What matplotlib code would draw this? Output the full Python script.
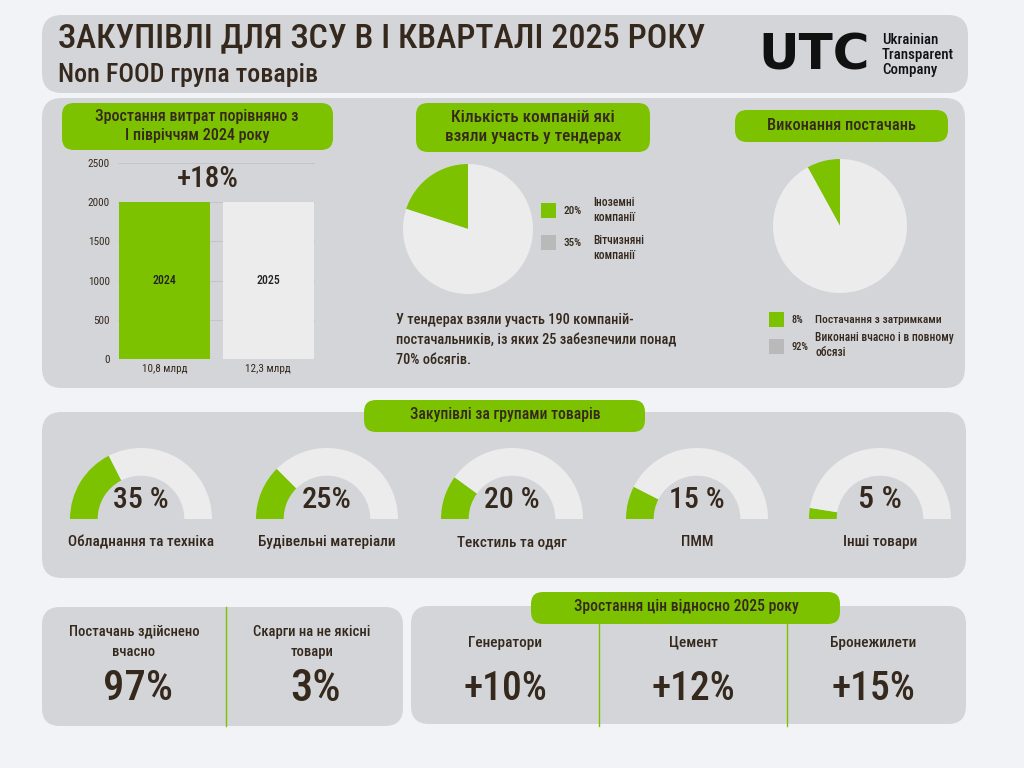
import matplotlib.pyplot as plt
from matplotlib import font_manager as fm
from matplotlib.patches import FancyBboxPatch

# ---- data read from the infographic ----
bar_years = ['2024', '2025']
bar_values = [2000, 2000]
bar_sums = ['10,8 млрд', '12,3 млрд']
bar_ticks = [0, 500, 1000, 1500, 2000, 2500]
growth_label = '+18%'

tender_shares = [20, 80]
tender_pct = ['20%', '35%']
tender_names = ['Іноземні\nкомпанії', 'Вітчизняні\nкомпанії']
tender_note = ('У тендерах взяли участь 190 компаній-\n'
               'постачальників, із яких 25 забезпечили понад\n'
               '70% обсягів.')

delivery_shares = [8, 92]
delivery_pct = ['8%', '92%']
delivery_names = ['Постачання з затримками', 'Виконані вчасно і в повному\nобсязі']

group_names = ['Обладнання та техніка', 'Будівельні матеріали',
               'Текстиль та одяг', 'ПММ', 'Інші товари']
group_shares = [35, 25, 20, 15, 5]
group_labels = ['35 %', '25%', '20 %', '15 %', '5 %']

kpi_names = ['Постачань здійснено\nвчасно', 'Скарги на не якісні\nтовари']
kpi_values = ['97%', '3%']

price_items = ['Генератори', 'Цемент', 'Бронежилети']
price_growth = [10, 12, 15]

# ---- style ----
W, H = 1024, 768
GREEN = '#7dc200'
PANEL = '#d4d5d9'
LIGHT = '#ececec'
GREYSQ = '#b9b9b9'
BG = '#f2f3f7'
INK = '#35291d'

# pick the narrowest family that is actually installed
_fonts = fm.fontManager.ttflist
_names = {f.name for f in _fonts}
STRETCH = 'normal'
FONT = 'DejaVu Sans'
for cand in ['Roboto Condensed', 'Liberation Sans Narrow', 'Noto Sans Condensed',
             'Open Sans Condensed']:
    if cand in _names:
        FONT = cand
        break
else:
    cond = [f.name for f in _fonts
            if f.name in ('Noto Sans', 'DejaVu Sans', 'Open Sans', 'Roboto')
            and f.stretch in ('condensed', 'semi-condensed', 'extra-condensed')]
    if cond:
        FONT, STRETCH = cond[0], 'condensed'
    elif 'Roboto' in _names:
        FONT = 'Roboto'

fig = plt.figure(figsize=(W / 100, H / 100), dpi=100, facecolor=BG)
ax = fig.add_axes([0, 0, 1, 1])
ax.set_xlim(0, W)
ax.set_ylim(H, 0)
ax.axis('off')
renderer = fig.canvas.get_renderer()


def box(x0, y0, x1, y1, color, r=16):
    ax.add_patch(FancyBboxPatch((x0, y0), x1 - x0, y1 - y0,
                                boxstyle=f'round,pad=0,rounding_size={r}',
                                fc=color, ec='none'))


def txt(x, y, s, size, ha='center', va='center', weight='medium', color=INK,
        ls=1.35, maxw=None, target=None):
    t = ax.text(x, y, s, fontsize=size, ha=ha, va=va, fontweight=weight,
                color=color, family=[FONT, 'DejaVu Sans'], fontstretch=STRETCH,
                linespacing=ls)
    if maxw or target:
        w = t.get_window_extent(renderer).width
        if target or w > maxw:
            t.set_fontsize(size * (target or maxw) / w)
    return t


def px_axes(x0, y0, x1, y1):
    return fig.add_axes([x0 / W, 1 - y1 / H, (x1 - x0) / W, (y1 - y0) / H])


# ---- header ----
box(42, 15, 968, 93, PANEL, 20)
txt(58, 38, 'ЗАКУПІВЛІ ДЛЯ ЗСУ В І КВАРТАЛІ 2025 РОКУ', 24, ha='left', target=650)
txt(58, 75, 'Non FOOD група товарів', 15, ha='left', target=260)
ax.text(758, 55, 'UTC', fontsize=36, fontweight='heavy', color='#111111',
        family='DejaVu Sans', ha='left', va='center')
txt(882, 55, 'Ukrainian\nTransparent\nCompany', 9, ha='left', color='#111111',
    ls=1.1, target=72)

# ---- top panel ----
box(42, 98, 965, 388, PANEL, 20)

# bar chart block
box(62, 103, 333, 150, GREEN, 12)
txt(197, 126, 'Зростання витрат порівняно з\nІ півріччям 2024 року', 11, target=204)

bx = px_axes(118, 163, 315, 359)
bx.set_facecolor('none')
bx.bar(range(len(bar_values)), bar_values, width=0.88,
       color=[GREEN, LIGHT], zorder=3)
bx.set_xlim(-0.45, 1.45)
bx.set_ylim(0, 2500)
bx.set_yticks(bar_ticks)
bx.set_xticks([])
bx.tick_params(axis='y', length=0, pad=6, labelsize=8, labelcolor=INK)
for lab in bx.get_yticklabels():
    lab.set_family([FONT, 'DejaVu Sans'])
    lab.set_fontstretch(STRETCH)
bx.grid(axis='y', color='#c4c5c9', lw=0.8, zorder=0)
for s in bx.spines.values():
    s.set_visible(False)
for i, (yr, val, lab) in enumerate(zip(bar_years, bar_values, bar_sums)):
    bx.text(i, val / 2, yr, ha='center', va='center', fontsize=8.5,
            fontweight='medium', color='#222222', family=[FONT, 'DejaVu Sans'],
            fontstretch=STRETCH)
    bx.text(i, -130, lab, ha='center', va='center', fontsize=8,
            color=INK, family=[FONT, 'DejaVu Sans'], fontstretch=STRETCH)
txt(208, 179, growth_label, 21, maxw=62)

# tender pie block
box(416, 103, 650, 152, GREEN, 12)
txt(533, 127, 'Кількість компаній які\nвзяли участь у тендерах', 11, target=176)
p1 = px_axes(403, 164, 533, 294)
p1.pie(tender_shares, colors=[GREEN, LIGHT], startangle=90, counterclock=True,
       wedgeprops=dict(linewidth=0))
p1.set_xlim(-1, 1)
p1.set_ylim(-1, 1)
for i, (pc, nm) in enumerate(zip(tender_pct, tender_names)):
    y = 211 + 32 * i
    ax.add_patch(plt.Rectangle((541, y - 8), 15, 15, fc=[GREEN, GREYSQ][i], ec='none'))
    txt(563, y, pc, 8, ha='left')
    txt(593, [210, 248][i], nm, 8.3, ha='left', ls=1.2)
txt(396, 340, tender_note, 10, ha='left', ls=1.5, target=281)

# delivery pie block
box(735, 110, 948, 142, GREEN, 12)
txt(841, 126, 'Виконання постачань', 11, target=148)
p2 = px_axes(773, 159, 907, 293)
p2.pie(delivery_shares, colors=[GREEN, LIGHT], startangle=90, counterclock=True,
       wedgeprops=dict(linewidth=0))
p2.set_xlim(-1, 1)
p2.set_ylim(-1, 1)
for i, (pc, nm) in enumerate(zip(delivery_pct, delivery_names)):
    y = 320 + 27 * i
    ax.add_patch(plt.Rectangle((769, y - 8), 15, 15, fc=[GREEN, GREYSQ][i], ec='none'))
    txt(791, y, pc, 7.5, ha='left')
    txt(815, [320, 345][i], nm, 7.5, ha='left', ls=1.3, target=[126, 137][i])

# ---- groups panel ----
box(42, 412, 966, 578, PANEL, 20)
box(364, 400, 645, 432, GREEN, 12)
txt(505, 415, 'Закупівлі за групами товарів', 10.5, target=191)
gauge_x = [141, 327, 512, 697, 880]
R, cy = 71, 519
for cx, share, lab, name in zip(gauge_x, group_shares, group_labels, group_names):
    g = px_axes(cx - R, cy - R, cx + R, cy + R)
    g.pie([share, 100 - share, 100], colors=[GREEN, LIGHT, 'none'],
          startangle=180, counterclock=False,
          wedgeprops=dict(width=0.39, linewidth=0))
    g.set_xlim(-1, 1)
    g.set_ylim(-1, 1)
    txt(cx, 500, lab, 23, maxw=56 if len(lab) > 3 else 50)
    txt(cx, 542, name, 11, maxw=155)

# ---- bottom left KPIs ----
box(42, 607, 403, 726, PANEL, 18)
ax.plot([226, 226], [607, 726], color=GREEN, lw=1)
for x, nm, val in zip([134, 312], kpi_names, kpi_values):
    txt(x, 642, nm, 10.5, ls=1.6, maxw=132)
    txt(x + 4, 689, val, 32, maxw=70)

# ---- price growth ----
box(411, 606, 966, 724, PANEL, 18)
for x in [599, 787]:
    ax.plot([x, x], [622, 726], color=GREEN, lw=1)
box(531, 592, 840, 624, GREEN, 12)
txt(686, 607, 'Зростання цін відносно 2025 року', 10.5, target=225)
for x, nm, val in zip([505, 693, 873], price_items, price_growth):
    txt(x, 643, nm, 11, maxw=95)
    txt(x, 689, f'+{val}%', 32, maxw=84)

fig.savefig('out.png', dpi=100, facecolor=BG)
